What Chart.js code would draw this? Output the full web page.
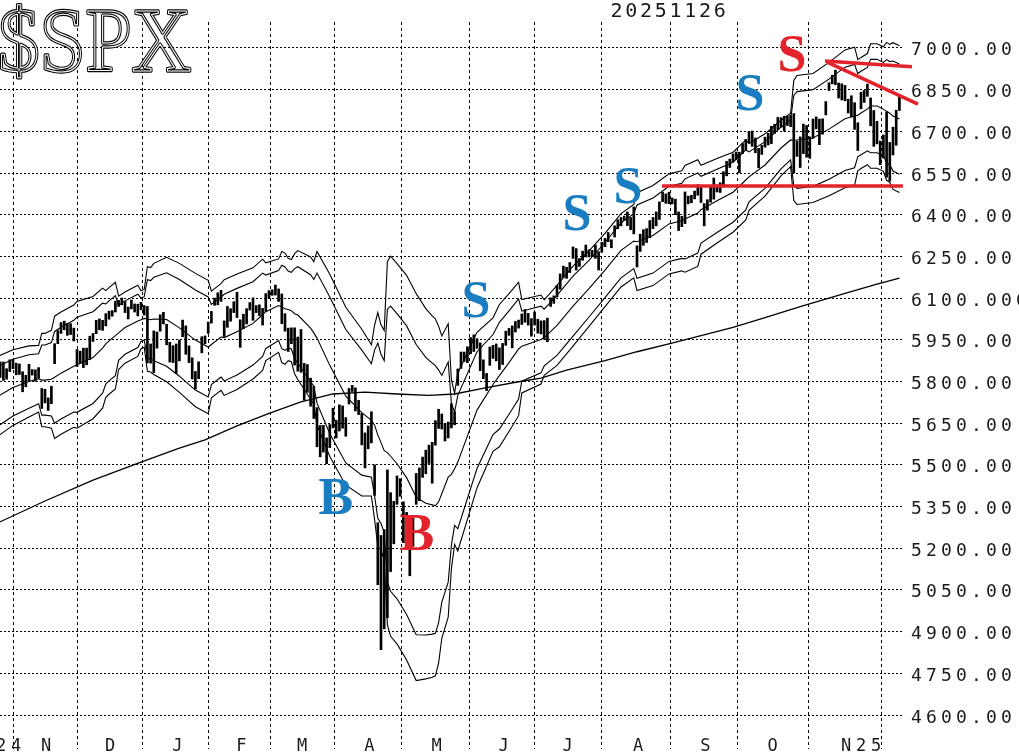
<!DOCTYPE html>
<html>
<head>
<meta charset="utf-8">
<script src="https://cdn.jsdelivr.net/npm/chart.js@4.4.1/dist/chart.umd.min.js"></script>
<style>
html,body{margin:0;padding:0;background:#fff;overflow:hidden}
canvas{display:block}
</style>
</head>
<body>
<canvas id="c" width="1019" height="753"></canvas>
<script>
// ---------------- DATA ----------------
const chartTitle = '$SPX';
const dateLabel = '20251126';

// trading-day index: 0 = 1 Nov 2024 ; first bar is 11 Oct 2024
const firstDay = -15;
const barLow = [5775,5815,5804,5808,5836,5846,5824,5825,5763,5781,5800,5823,5801,5813,5703,
5723,5696,5720,5864,5936,5973,5986,5966,5969,5946,5854,5865,5850,5860,5879,5944,5972,5986,5984,6000,
6024,6035,6050,6070,6076,6048,6025,6061,6050,6036,6058,6039,5867,5866,5832,5920,5981,6007,5932,5870,5868,
5829,5874,5961,5898,5868,5809,5773,5810,5903,5936,5973,6010,6074,6076,6088,5962,5995,6017,6048,6030,
5923,5990,6007,6057,6020,6048,6037,6003,6052,6100,6110,6111,6088,6008,5981,5908,5936,5859,5837,
5833,5733,5761,5711,5667,5565,5529,5546,5504,5562,5633,5597,5622,5632,5603,5719,5764,5694,5681,5572,5489,
5558,5579,5390,5069,4835,4910,4950,5116,5216,5358,5387,5220,5262,5101,5207,5358,5371,5455,5468,5505,5434,
5571,5631,5629,5586,5597,5633,5644,5786,5847,5872,5868,5900,5908,5919,5839,5810,5767,5858,5883,5874,5843,
5861,5930,5966,5921,5978,5992,6005,6013,6003,5963,6003,5974,5971,5952,5943,6070,6081,6104,6132,6174,
6171,6192,6243,6201,6214,6236,6248,6248,6249,6243,6201,6265,6285,6303,6281,6320,6350,6360,6380,6361,6346,6331,
6212,6268,6290,6300,6317,6350,6360,6383,6447,6441,6440,6439,6400,6343,6357,6368,6439,6443,6457,6470,6444,
6360,6416,6445,6456,6482,6480,6500,6540,6570,6589,6598,6551,6620,6633,6658,6646,6623,6569,6617,6643,6651,
6656,6693,6706,6715,6701,6721,6717,6550,6610,6570,6620,6607,6603,6675,6709,6652,6690,6759,6847,6871,6868,6820,6813,
6810,6766,6752,6707,6631,6781,6804,6826,6720,6646,6655,6580,6604,6535,6521,6615,6650,6775];
const barHigh = [5822,5871,5870,5846,5878,5878,5866,5863,5835,5822,5862,5843,5842,5850,5775,
5772,5741,5783,5936,5983,6012,6017,6009,6008,5992,5915,5909,5920,5920,5963,5973,6020,6025,6020,6044,
6053,6055,6089,6092,6100,6088,6068,6093,6079,6078,6085,6073,6070,5935,5982,5978,6040,6049,6006,5941,5929,
5935,5949,6021,6000,5928,5885,5836,5871,5961,5964,6014,6052,6100,6119,6128,6018,6070,6062,6087,6121,
6022,6042,6062,6084,6101,6073,6076,6063,6116,6127,6130,6147,6133,6115,6044,5992,5993,5993,5960,
5987,5865,5861,5812,5783,5706,5642,5642,5597,5645,5704,5660,5716,5712,5670,5775,5786,5777,5732,5685,5615,
5640,5691,5500,5292,5246,5267,5482,5400,5369,5460,5450,5367,5329,5232,5309,5469,5489,5528,5553,5571,5581,
5659,5700,5683,5649,5654,5720,5691,5845,5906,5906,5925,5958,5968,5954,5939,5878,5829,5924,5930,5935,5921,
5937,5981,5991,6000,6016,6021,6043,6059,6045,6026,6050,6024,6018,6019,6028,6101,6108,6146,6187,6215,
6211,6228,6284,6278,6242,6269,6291,6274,6272,6291,6267,6301,6315,6336,6310,6360,6382,6390,6395,6410,6390,6428,
6288,6330,6346,6350,6379,6390,6410,6446,6481,6475,6481,6460,6456,6410,6394,6482,6467,6470,6485,6508,6501,
6440,6454,6502,6532,6507,6515,6555,6592,6600,6619,6626,6625,6656,6671,6699,6701,6676,6639,6650,6679,6693,
6718,6725,6750,6749,6754,6755,6758,6764,6664,6680,6726,6721,6680,6744,6752,6744,6745,6807,6875,6902,6920,6874,6871,
6865,6816,6828,6803,6731,6841,6847,6870,6820,6775,6736,6665,6687,6770,6660,6715,6776,6830];

// band lines (20-day average and volatility bands), read at these trading days
const bandDays = [-15,-10,-5,-2,-1,0,2,3,5,9,10,15,18,19,20,22,23,25,29,30,31,32,33,34,38,42,47,51,52,55,
56,60,65,68,69,73,74,75,76,77,78,79,83,84,85,89,94,99,102,103,104,105,106,107,108,110,113,116,119,121,
122,123,124,126,127,128,129,135,140,142,145,148,149,155,156,160,165,170,175,180,184,185,190,195,199,200,
204,205,210,215,219,220,225,230,233,234,235,240,245,250,253,254,255,257,258,260,262,263,264,265,267];
const ma20 = [5745,5778,5800,5810,5805,5805,5808,5815,5830,5855,5860,5886,5920,5935,5946,5965,5975,5994,6018,6022,
6027,6025,6022,6025,6023,5993,5949,5924,5933,5960,5958,5979,6009,6040,6051,6073,6068,6062,6059,6055,
6044,6039,5992,5975,5956,5858,5747,5688,5660,5643,5608,5580,5551,5544,5531,5504,5454,5384,5362,5356,
5353,5367,5396,5456,5466,5486,5510,5697,5789,5821,5868,5917,5927,5951,5958,6002,6071,6134,6201,6272,
6305,6303,6325,6367,6378,6385,6406,6418,6450,6481,6525,6536,6579,6640,6669,6667,6669,6676,6708,6745,
6755,6758,6766,6780,6791,6791,6780,6772,6765,6755,6744];
const upper4 = [5889,5914,5928,5930,5973,5973,5984,6035,6050,6075,6088,6106,6136,6127,6138,6157,6107,6122,6146,6126,
6131,6213,6210,6225,6247,6225,6189,6164,6125,6152,6166,6187,6209,6240,6227,6241,6268,6262,6243,6239,
6260,6271,6248,6231,6268,6186,6067,5988,5932,6003,6048,6004,5983,6232,6251,6224,6182,6116,6062,6036,
6025,5999,5964,6008,5806,5758,5830,5977,6029,6077,6116,6157,6095,6111,6094,6146,6215,6270,6333,6404,
6437,6479,6505,6547,6558,6577,6598,6578,6602,6625,6669,6656,6691,6740,6765,6883,6901,6908,6948,6993,
7003,6958,6966,6980,7015,7015,7004,7020,7013,7019,7008];
const upper3 = [5853,5880,5896,5900,5931,5931,5940,5980,5995,6020,6031,6051,6082,6079,6090,6109,6074,6090,6114,6100,
6105,6166,6163,6175,6191,6167,6129,6104,6077,6104,6114,6135,6159,6190,6183,6199,6218,6212,6197,6193,
6206,6213,6184,6167,6190,6104,5987,5913,5864,5913,5938,5898,5875,6060,6071,6044,6000,5933,5887,5866,
5857,5841,5822,5870,5721,5690,5750,5907,5969,6013,6054,6097,6053,6071,6060,6110,6179,6236,6300,6371,
6404,6435,6460,6502,6513,6529,6550,6538,6564,6589,6633,6626,6663,6715,6741,6829,6843,6850,6888,6931,
6941,6908,6916,6930,6959,6959,6948,6958,6951,6953,6942];
const lower3 = [5637,5676,5704,5720,5679,5679,5676,5650,5665,5690,5689,5721,5758,5791,5802,5821,5876,5898,5922,5944,
5949,5884,5881,5875,5855,5819,5769,5744,5789,5816,5802,5823,5859,5890,5919,5947,5918,5912,5921,5917,
5882,5865,5800,5783,5722,5612,5507,5463,5456,5388,5308,5289,5257,5079,5045,5018,4962,4889,4888,4891,
4894,4932,5006,5078,5211,5282,5270,5487,5609,5629,5682,5737,5801,5831,5856,5894,5963,6032,6102,6173,
6206,6171,6190,6232,6243,6241,6262,6298,6336,6373,6417,6446,6495,6565,6597,6505,6495,6502,6528,6559,
6569,6608,6616,6630,6623,6623,6612,6586,6579,6557,6546];
const lower4 = [5601,5642,5672,5690,5637,5637,5632,5595,5610,5635,5632,5666,5704,5743,5754,5773,5843,5866,5890,5918,
5923,5837,5834,5825,5799,5761,5709,5684,5741,5768,5750,5771,5809,5840,5875,5905,5868,5862,5875,5871,
5828,5807,5736,5719,5644,5530,5427,5388,5388,5303,5208,5192,5159,4924,4883,4856,4798,4724,4730,4736,
4741,4787,4876,4952,5126,5214,5190,5417,5549,5565,5620,5677,5759,5791,5822,5858,5927,5998,6069,6140,
6173,6127,6145,6187,6198,6193,6214,6258,6298,6337,6381,6416,6467,6540,6573,6451,6437,6444,6468,6497,
6507,6558,6566,6580,6567,6567,6556,6524,6517,6491,6480];

// 200-day moving average
const ma200Days = [-15,0,15,30,42,50,60,70,80,90,100,110,120,128,138,148,155,163,175,185,195,205,215,225,236,250,260,267];
const ma200 = [5290,5370,5445,5510,5560,5590,5640,5685,5727,5755,5762,5755,5750,5755,5778,5799,5812,5841,5875,5907,5935,5965,5995,6030,6069,6117,6150,6172];

// axes
const monthStarts = [0,20,41,61,80,101,122,143,163,185,206,227,250];
const monthLabels = ['24 N','D','J','F','M','A','M','J','J','A','S','O','N25'];
const priceTicks = [4600,4750,4900,5050,5200,5350,5500,5650,5800,5950,6100,6250,6400,6550,6700,6850,7000];
const priceTickLabels = ['4600.00','4750.00','4900.00','5050.00','5200.00','5350.00','5500.00','5650.00','5800.00','5950.00','6100.000','6250.00','6400.00','6550.00','6700.00','6850.00','7000.00'];

// annotations (trading day, price)
const signalText  = ['B','B','S','S','S','S','S'];
const signalDay   = [90.9,116.2,134.7,166.2,182.2,220.3,233.4];
const signalPrice = [5384,5255,6093,6406,6503,6838,6978];
const signalKind  = ['blue','red','blue','blue','blue','blue','red'];
const trendLines = [[192.8,6503,268.1,6503],[243.75,6953,270.9,6932],[244.4,6949,272.8,6798]];

// ---------------- CHART ----------------
const BLUE = '#1b7dc1', RED = '#e4222b';
const pts = (days, vals) => days.map((d, k) => ({x: d, y: vals[k]}));
const bars = barLow.map((lo, k) => ({x: firstDay + k, y: [lo, barHigh[k]]}));
const lineDs = (data, w) => ({type: 'line', data, borderColor: '#000', borderWidth: w, pointRadius: 0, tension: 0, fill: false, order: 2});

function spaced(ctx, str, x, y, pitch) {
  const adv = ctx.measureText('0').width;
  if ('letterSpacing' in ctx) {
    ctx.letterSpacing = (pitch - adv) + 'px';
    ctx.fillText(str, x, y);
    ctx.letterSpacing = '0px';
  } else {
    ctx.save();
    ctx.translate(x, y);
    ctx.scale(pitch / adv, 1);
    ctx.fillText(str, 0, 0);
    ctx.restore();
  }
}

const overlay = {
  id: 'overlay',
  afterDraw(chart) {
    const {ctx} = chart;
    const xs = chart.scales.x, ys = chart.scales.y;
    ctx.save();
    ctx.textAlign = 'left';
    ctx.textBaseline = 'alphabetic';
    ctx.fillStyle = '#1a1a1a';
    // y tick labels
    ctx.font = '18px "DejaVu Sans Mono"';
    priceTicks.forEach((v, k) => {
      const py = ys.getPixelForValue(v);
      spaced(ctx, priceTickLabels[k], 911, py + 7.5, 15);
    });
    // month labels
    ctx.font = '17px "DejaVu Sans Mono"';
    monthStarts.forEach((d, k) => {
      const px = xs.getPixelForValue(d);
      const lab = monthLabels[k];
      const sp = lab.indexOf(' ');
      const off = sp >= 0 ? (sp + 1) * 15 : 0;
      spaced(ctx, lab, px - 4 - off, 751, 15);
    });
    // date
    ctx.font = '20px "DejaVu Sans Mono"';
    spaced(ctx, dateLabel, 610.5, 17, 14.75);
    // title, outlined serif
    ctx.save();
    ctx.font = '92px "Liberation Serif"';
    ctx.translate(-2, 71);
    ctx.scale(0.9, 1);
    ctx.lineJoin = 'round';
    ctx.strokeStyle = '#000';
    ctx.lineWidth = 3.4;
    ctx.strokeText(chartTitle, 0, 0);
    ctx.strokeStyle = '#fff';
    ctx.lineWidth = 1.1;
    ctx.strokeText(chartTitle, 0, 0);
    ctx.restore();
    // red trend lines
    ctx.strokeStyle = RED;
    ctx.lineWidth = 3.5;
    ctx.lineCap = 'butt';
    trendLines.forEach(([d1, p1, d2, p2]) => {
      ctx.beginPath();
      ctx.moveTo(xs.getPixelForValue(d1), ys.getPixelForValue(p1));
      ctx.lineTo(xs.getPixelForValue(d2), ys.getPixelForValue(p2));
      ctx.stroke();
    });
    // signal letters
    ctx.font = 'bold 52px "Liberation Serif"';
    ctx.textAlign = 'center';
    signalText.forEach((t, k) => {
      ctx.fillStyle = signalKind[k] === 'red' ? RED : BLUE;
      ctx.fillText(t, xs.getPixelForValue(signalDay[k]), ys.getPixelForValue(signalPrice[k]) + 17);
    });
    ctx.restore();
  }
};

new Chart(document.getElementById('c'), {
  type: 'bar',
  data: {
    datasets: [
      {type: 'bar', data: bars, backgroundColor: '#000', borderWidth: 0, barThickness: 2, order: 1},
      lineDs(pts(bandDays, ma20), 1.1),
      lineDs(pts(bandDays, upper4), 1.1),
      lineDs(pts(bandDays, upper3), 1.1),
      lineDs(pts(bandDays, lower3), 1.1),
      lineDs(pts(bandDays, lower4), 1.1),
      lineDs(pts(ma200Days, ma200), 1.3)
    ]
  },
  options: {
    responsive: false,
    animation: false,
    events: [],
    layout: {padding: {left: 0, right: 116, top: 22, bottom: 4}},
    plugins: {legend: {display: false}, tooltip: {enabled: false}, title: {display: false}},
    scales: {
      x: {
        type: 'linear', min: -14.0625, max: 268.125, offset: false,
        grid: {color: '#000', lineWidth: 1, drawTicks: false},
        border: {display: false, dash: [3, 3]},
        ticks: {display: false},
        afterBuildTicks: s => { s.ticks = monthStarts.map(v => ({value: v})); }
      },
      y: {
        type: 'linear', position: 'right', min: 4477.7, max: 7093.4,
        grid: {color: '#000', lineWidth: 1, drawTicks: false},
        border: {display: false, dash: [2, 2]},
        ticks: {display: false},
        afterBuildTicks: s => { s.ticks = priceTicks.map(v => ({value: v})); }
      }
    }
  },
  plugins: [overlay]
});
</script>
</body>
</html>
